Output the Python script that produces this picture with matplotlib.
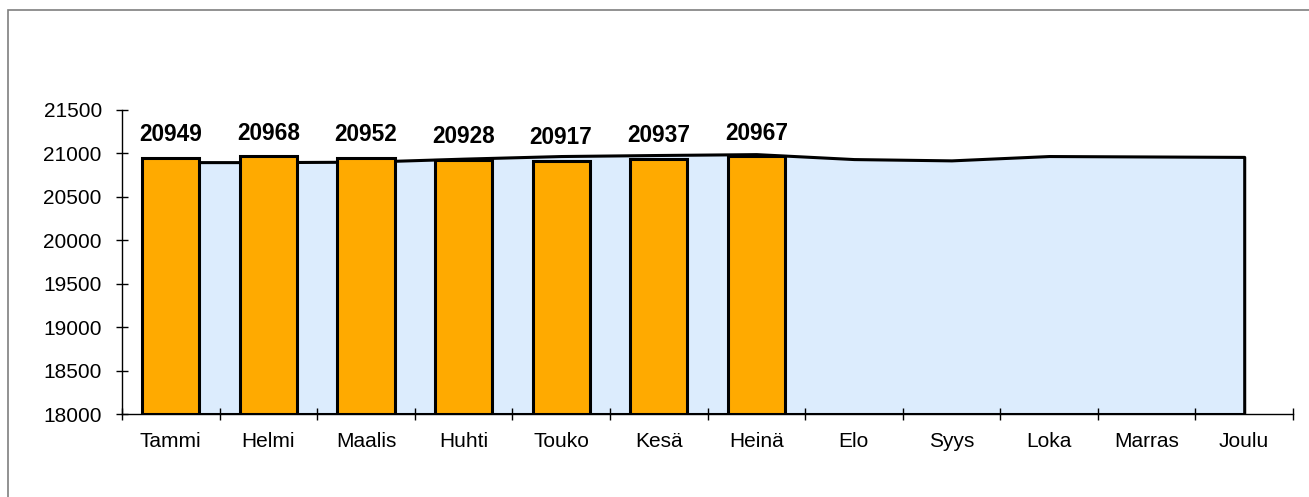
import numpy as np
import matplotlib.pyplot as plt
from matplotlib.patches import Rectangle

plt.rcParams["font.family"] = ["Liberation Sans", "DejaVu Sans"]

months = ["Tammi", "Helmi", "Maalis", "Huhti", "Touko", "Kesä",
          "Heinä", "Elo", "Syys", "Loka", "Marras", "Joulu"]
# area / line series (whole year)
area_vals = [20900, 20900, 20905, 20940, 20970, 20982,
             20992, 20935, 20920, 20970, 20965, 20960]
# bars (current year so far)
bar_vals = [20949, 20968, 20952, 20928, 20917, 20937, 20967]

fig = plt.figure(figsize=(13.09, 4.97), dpi=100)
ax = fig.add_axes([122 / 1309, 1 - 414 / 497, (1293 - 122) / 1309, (414 - 110) / 497])

# outer frame
fig.patches.append(Rectangle((8 / 1309, -0.1), 1.2, 1 - 10 / 497 + 0.1,
                             transform=fig.transFigure, fill=False,
                             edgecolor="#7f7f7f", linewidth=1.2))

x = np.arange(len(months))
ax.fill_between(x, area_vals, 18000, facecolor="#dcecfd", edgecolor="black",
                linewidth=2.2, zorder=1)

xb = np.arange(len(bar_vals))
ax.bar(xb, np.array(bar_vals) - 18000, bottom=18000, width=0.585,
       color="#ffaa00", edgecolor="black", linewidth=2.2, zorder=3)
for xi, v in zip(xb, bar_vals):
    ax.annotate(str(v), xy=(xi, v), xytext=(0, 12), textcoords="offset points",
                ha="center", va="baseline", fontsize=16.3, fontweight="bold")

ax.set_xlim(-0.5, len(months) - 0.5)
ax.set_ylim(18000, 21500)
ax.set_yticks(np.arange(18000, 21501, 500))
ax.tick_params(axis="y", direction="inout", length=9, width=1, labelsize=15, pad=10)

ax.set_xticks(np.arange(-0.5, len(months), 1))
ax.set_xticklabels([])
ax.set_xticks(x, minor=True)
ax.set_xticklabels(months, minor=True)
ax.tick_params(axis="x", which="major", direction="inout", length=9, width=1)
ax.tick_params(axis="x", which="minor", length=0, labelsize=15, pad=13)

for s in ["top", "right"]:
    ax.spines[s].set_visible(False)
for s in ["left", "bottom"]:
    ax.spines[s].set_linewidth(1)
    ax.spines[s].set_zorder(4)

fig.savefig("out.png", dpi=100)
